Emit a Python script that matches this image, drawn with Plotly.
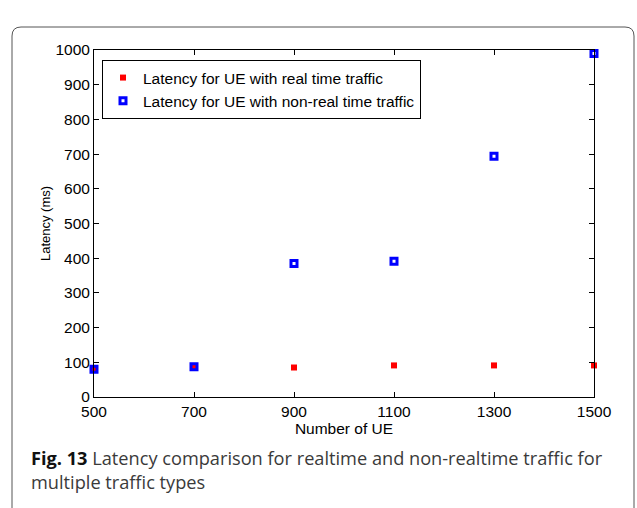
import plotly.graph_objects as go

# Number of user equipments simulated
num_ue = [500, 700, 900, 1100, 1300, 1500]

# Average latency (ms) per traffic class
latency_realtime = [78, 87, 85, 91, 91, 91]
latency_nonrealtime = [80, 87, 385, 391, 694, 990]

x_ticks = [500, 700, 900, 1100, 1300, 1500]
y_ticks = [0, 100, 200, 300, 400, 500, 600, 700, 800, 900, 1000]

W, H = 637, 508
L, R, T, B = 94, 43, 50, 111
PW, PH = W - L - R, H - T - B


def px_x(px):
    return (px - L) / PW


def px_y(py):
    return (H - B - py) / PH


fig = go.Figure()

fig.add_trace(go.Scatter(
    x=num_ue, y=latency_realtime, mode="markers",
    name="Latency for UE with real time traffic",
    marker=dict(symbol="square", size=6, color="#ff0000"),
    cliponaxis=False, legendrank=1,
))
fig.add_trace(go.Scatter(
    x=num_ue, y=latency_nonrealtime, mode="markers",
    name="Latency for UE with non-real time traffic",
    marker=dict(symbol="square-open", size=6, color="#0000ff",
                line=dict(width=3, color="#0000ff")),
    cliponaxis=False, legendrank=2,
))

axis_font = dict(family="Liberation Sans, Arial, sans-serif", size=15.5, color="black")

fig.update_xaxes(
    range=[500, 1500], tickvals=x_ticks, ticktext=[str(v) for v in x_ticks],
    ticks="inside", ticklen=5, tickcolor="black", showline=True, linecolor="black",
    linewidth=1, mirror="ticks", showgrid=False, zeroline=False,
    tickfont=axis_font,
    title=dict(text="Number of UE", font=axis_font, standoff=0),
)
fig.update_yaxes(
    range=[0, 1000], tickvals=y_ticks, ticktext=[str(v) for v in y_ticks],
    ticks="inside", ticklen=5, tickcolor="black", showline=True, linecolor="black",
    linewidth=1, mirror="ticks", showgrid=False, zeroline=False,
    tickfont=axis_font,
    title=dict(text="Latency (ms)", font=dict(family="Liberation Sans, Arial, sans-serif",
                                               size=13, color="black"), standoff=1),
)

# Rounded outer frame around figure and caption
x0, x1 = px_x(12), px_x(634)
y0, y1 = px_y(27), px_y(530)
rx, ry = 9 / PW, 9 / PH
frame_path = (
    f"M {x0 + rx},{y0} L {x1 - rx},{y0} Q {x1},{y0} {x1},{y0 - ry} "
    f"L {x1},{y1 + ry} Q {x1},{y1} {x1 - rx},{y1} "
    f"L {x0 + rx},{y1} Q {x0},{y1} {x0},{y1 + ry} "
    f"L {x0},{y0 - ry} Q {x0},{y0} {x0 + rx},{y0} Z"
)
fig.add_shape(type="path", path=frame_path, xref="paper", yref="paper",
              line=dict(color="#555555", width=1), layer="below")

caption_font = dict(family="Open Sans, Noto Sans, sans-serif", size=18.2, color="#3a3a3a")
fig.add_annotation(
    xref="paper", yref="paper", x=px_x(29), y=px_y(458), xanchor="left", yanchor="middle",
    text="<b style='color:#111'>Fig. 13</b> Latency comparison for realtime and non-realtime traffic for",
    showarrow=False, font=caption_font,
)
fig.add_annotation(
    xref="paper", yref="paper", x=px_x(29), y=px_y(482), xanchor="left", yanchor="middle",
    text="multiple traffic types",
    showarrow=False, font=caption_font,
)

fig.update_layout(
    width=W, height=H,
    margin=dict(l=L, r=R, t=T, b=B, pad=0),
    plot_bgcolor="white", paper_bgcolor="white",
    legend=dict(
        x=px_x(102), y=px_y(60), xanchor="left", yanchor="top",
        bordercolor="black", borderwidth=1, bgcolor="white",
        font=dict(family="Liberation Sans, Arial, sans-serif", size=15.5, color="black"),
        tracegroupgap=0,
    ),
    showlegend=True,
)

fig.write_html("out.html")
